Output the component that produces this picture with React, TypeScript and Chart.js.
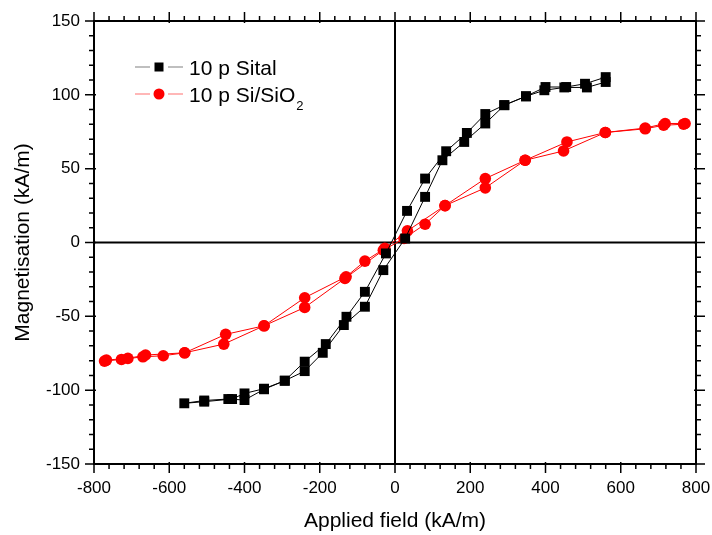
import React, { useEffect, useRef } from "react";
import { Chart, registerables } from "chart.js";

Chart.register(...registerables);

// ---- Data ----
// 10 p Sital: hysteresis loop, descending branch then ascending branch
const sitalX = [
  560, 505, 455, 400, 348, 290, 240, 191, 136, 80, 32, -24, -80, -129, -184, -240, -293, -348, -400, -433, -507, -560,
  -507, -443, -400, -348, -293, -240, -192, -136, -80, -31, 27, 80, 126, 184, 240, 291, 348, 397, 450, 510, 560,
];
const sitalY = [
  112, 107.5, 105.3, 105.3, 99, 93, 87, 74.2, 61.8, 43.3, 21.4, -7.4, -33.4, -50.3, -68.8, -80.7, -93.6, -99, -102.2, -106, -107.8, -108.9,
  -107, -106, -106.7, -99.4, -93.6, -87.1, -74.7, -55.9, -43.5, -18.7, 2.7, 30.9, 55.7, 68.1, 80.6, 93, 99, 103.1, 105, 105, 108.7,
];

// 10 p Si/SiO2: hysteresis loop, descending branch then ascending branch
const siliconX = [
  771, 718, 665, 559, 457, 346, 240, 133, 33, -27, -80, -130, -240, -348, -450, -559, -663, -710, -767,
  -772, -727, -670, -616, -559, -455, -348, -240, -133, -31, 24, 80, 133, 240, 346, 448, 559, 665, 714, 767,
];
const siliconY = [
  80.6, 80.6, 77.5, 74.5, 68.1, 55.7, 43.3, 25, 7.9, -4, -12.6, -23.2, -37.4, -56.4, -62.2, -74.7, -76.2, -78.5, -79.6,
  -80.3, -79.2, -77.4, -76.7, -74.7, -68.8, -56.4, -44, -24.3, -5.2, 2.7, 12.4, 25, 37, 55.7, 62, 74.5, 77, 79.4, 80.1,
];

const xMin = -800;
const xMax = 800;
const xStep = 200;
const xMinorStep = 40;
const yMin = -150;
const yMax = 150;
const yStep = 50;
const yMinorStep = 10;

const seriesNames = ["10 p Sital", "10 p Si/SiO"];
const subscriptText = "2";

const FONT = "'Liberation Sans', Arial, sans-serif";

const zip = (xs: number[], ys: number[]) => xs.map((x, i) => ({ x, y: ys[i] }));

const framePlugin = {
  id: "frameTicks",
  beforeDatasetsDraw(chart: any) {
    const { ctx, chartArea: a, scales } = chart;
    const x0 = scales.x.getPixelForValue(0);
    const y0 = scales.y.getPixelForValue(0);
    ctx.save();
    ctx.strokeStyle = "#000";
    ctx.lineWidth = 2;
    ctx.beginPath();
    ctx.moveTo(x0, a.top);
    ctx.lineTo(x0, a.bottom);
    ctx.moveTo(a.left, y0);
    ctx.lineTo(a.right, y0);
    ctx.stroke();
    ctx.restore();
  },
  afterDraw(chart: any) {
    const { ctx, chartArea: a, scales } = chart;
    ctx.save();
    ctx.strokeStyle = "#000";
    ctx.lineWidth = 2;
    ctx.strokeRect(a.left, a.top, a.right - a.left, a.bottom - a.top);
    ctx.lineWidth = 1.5;
    ctx.beginPath();
    for (let v = xMin; v <= xMax + 0.001; v += xMinorStep) {
      const major = Math.abs((v - xMin) % xStep) < 0.001;
      const px = scales.x.getPixelForValue(v);
      const out = major ? 9 : 5;
      const inn = major ? 2 : 0;
      ctx.moveTo(px, a.bottom - inn);
      ctx.lineTo(px, a.bottom + out);
      ctx.moveTo(px, a.top + inn);
      ctx.lineTo(px, a.top - out);
    }
    for (let v = yMin; v <= yMax + 0.001; v += yMinorStep) {
      const major = Math.abs((v - yMin) % yStep) < 0.001;
      const py = scales.y.getPixelForValue(v);
      const out = major ? 9 : 5;
      const inn = major ? 2 : 0;
      ctx.moveTo(a.left + inn, py);
      ctx.lineTo(a.left - out, py);
      ctx.moveTo(a.right - inn, py);
      ctx.lineTo(a.right + out, py);
    }
    ctx.stroke();

    // Legend
    const rows = [
      { y: 67, line: "#808080", color: "#000", style: "rect", text: seriesNames[0], sub: "" },
      { y: 94, line: "#ff7070", color: "#ff0000", style: "circle", text: seriesNames[1], sub: subscriptText },
    ];
    rows.forEach((r) => {
      ctx.strokeStyle = r.line;
      ctx.lineWidth = 1.2;
      ctx.beginPath();
      ctx.moveTo(135, r.y);
      ctx.lineTo(150, r.y);
      ctx.moveTo(168, r.y);
      ctx.lineTo(183, r.y);
      ctx.stroke();
      ctx.fillStyle = r.color;
      if (r.style === "rect") {
        ctx.fillRect(154.5, r.y - 4.5, 9, 9);
      } else {
        ctx.beginPath();
        ctx.arc(159, r.y, 5.5, 0, Math.PI * 2);
        ctx.fill();
      }
      ctx.fillStyle = "#000";
      ctx.font = `21px ${FONT}`;
      ctx.textBaseline = "alphabetic";
      ctx.textAlign = "left";
      ctx.fillText(r.text, 189, r.y + 7.5);
      if (r.sub) {
        const w = ctx.measureText(r.text).width;
        ctx.font = `13px ${FONT}`;
        ctx.fillText(r.sub, 189 + w + 1, r.y + 16);
      }
    });
    ctx.restore();
  },
};

export default function App() {
  const ref = useRef<HTMLCanvasElement>(null);

  useEffect(() => {
    if (!ref.current) return;
    const chart = new Chart(ref.current, {
      type: "scatter",
      data: {
        datasets: [
          {
            label: seriesNames[0],
            data: zip(sitalX, sitalY),
            showLine: true,
            borderColor: "#000",
            backgroundColor: "#000",
            borderWidth: 1,
            pointStyle: "rect",
            pointRadius: 7,
            pointBorderWidth: 0,
            tension: 0,
          },
          {
            label: seriesNames[1] + subscriptText,
            data: zip(siliconX, siliconY),
            showLine: true,
            borderColor: "#ff0000",
            backgroundColor: "#ff0000",
            borderWidth: 1,
            pointStyle: "circle",
            pointRadius: 5.8,
            pointBorderWidth: 0,
            tension: 0,
          },
        ],
      },
      options: {
        animation: false,
        responsive: false,
        devicePixelRatio: 1,
        layout: { padding: { left: 0, top: 21, right: 16, bottom: 0 } },
        plugins: { legend: { display: false }, tooltip: { enabled: false } },
        scales: {
          x: {
            type: "linear",
            min: xMin,
            max: xMax,
            grid: { display: false, drawTicks: false },
            border: { display: false },
            ticks: {
              stepSize: xStep,
              autoSkip: false,
              maxRotation: 0,
              padding: 14,
              color: "#000",
              font: { family: FONT, size: 17 },
            },
            title: {
              display: true,
              text: "Applied field (kA/m)",
              color: "#000",
              font: { family: FONT, size: 21 },
              padding: { top: 0, bottom: 1 },
            },
            afterFit: (s: any) => {
              s.height = 71;
              s.paddingLeft = 0;
              s.paddingRight = 0;
            },
          },
          y: {
            type: "linear",
            min: yMin,
            max: yMax,
            grid: { display: false, drawTicks: false },
            border: { display: false },
            ticks: {
              stepSize: yStep,
              autoSkip: false,
              padding: 14,
              color: "#000",
              font: { family: FONT, size: 17 },
            },
            title: {
              display: true,
              text: "Magnetisation (kA/m)",
              color: "#000",
              font: { family: FONT, size: 21 },
              padding: { top: 11, bottom: 0 },
            },
            afterFit: (s: any) => {
              s.width = 94;
              s.paddingTop = 0;
              s.paddingBottom = 0;
            },
          },
        },
      },
      plugins: [framePlugin],
    });
    return () => chart.destroy();
  }, []);

  return (
    <div style={{ position: "absolute", left: 0, top: 0, width: 712, height: 535, background: "#fff" }}>
      <canvas ref={ref} width={712} height={535} style={{ display: "block" }} />
    </div>
  );
}
